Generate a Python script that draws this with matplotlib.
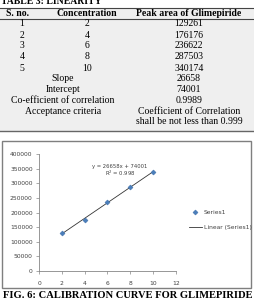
import matplotlib.pyplot as plt
from matplotlib.patches import Rectangle
from matplotlib.lines import Line2D
import numpy as np

# linearity table
sno = [1, 2, 3, 4, 5]
conc = [2, 4, 6, 8, 10]
peak_area = [129261, 176176, 236622, 287503, 340174]
summary_labels = ['Slope', 'Intercept', 'Co-efficient of correlation', 'Acceptance criteria']
summary_values = ['26658', '74001', '0.9989', 'Coefficient of Correlation\nshall be not less than 0.999']
headers = ['S. no.', 'Concentration', 'Peak area of Glimepiride']

W, H = 255, 303
fig = plt.figure(figsize=(W / 100, H / 100), dpi=100)


def fx(px):
    return px / W


def fy(py):
    return 1 - py / H


serif = 'Liberation Serif'
fs = 7.0

# table
fig.patches.append(Rectangle((0, fy(131)), 1, fy(8) - fy(131), transform=fig.transFigure,
                             facecolor='#efefef', edgecolor='none', zorder=-2))
fig.text(fx(1), fy(1), 'TABLE 3: LINEARITY', family=serif, weight='bold', fontsize=fs,
         ha='left', va='center')
fig.add_artist(Line2D([0, 1], [fy(8), fy(8)], color='#444444', lw=0.8))
fig.add_artist(Line2D([0, 1], [fy(18.5), fy(18.5)], color='#444444', lw=0.8))
fig.add_artist(Line2D([0, 1], [fy(131), fy(131)], color='#666666', lw=1.0))

col_x = [18, 87, 189]
for x, h in zip(col_x, headers):
    fig.text(fx(x), fy(13), h, family=serif, weight='bold', fontsize=fs, ha='center', va='center')

row_y = [24, 35, 46, 57, 68]
for y, a, b, c in zip(row_y, sno, conc, peak_area):
    fig.text(fx(22), fy(y), str(a), family=serif, fontsize=fs, ha='center', va='center')
    fig.text(fx(87), fy(y), str(b), family=serif, fontsize=fs, ha='center', va='center')
    fig.text(fx(189), fy(y), str(c), family=serif, fontsize=fs, ha='center', va='center')

sum_y = [79, 90, 101, 112]
for y, lab, val in zip(sum_y, summary_labels, summary_values):
    fig.text(fx(63), fy(y), lab, family=serif, fontsize=fs, ha='center', va='center')
    if '\n' in val:
        fig.text(fx(189), fy(y - 5), val, family=serif, fontsize=fs, ha='center', va='top',
                 linespacing=1.1)
    else:
        fig.text(fx(189), fy(y), val, family=serif, fontsize=fs, ha='center', va='center')

# chart box
fig.patches.append(Rectangle((fx(2), fy(288)), fx(251) - fx(2), fy(141) - fy(288),
                             transform=fig.transFigure, facecolor='white', edgecolor='#7f7f7f',
                             lw=1.0, zorder=-1))

ax = fig.add_axes([fx(39), fy(271), fx(176) - fx(39), fy(154.3) - fy(271)])
ax.set_facecolor('none')
slope, intercept = np.polyfit(conc, peak_area, 1)
r2 = np.floor(np.corrcoef(conc, peak_area)[0, 1] ** 2 * 1000) / 1000
xs = np.array([conc[0], conc[-1]])
ax.plot(xs, slope * xs + intercept, color='#333333', lw=0.6, label='Linear (Series1)', zorder=2)
ax.plot(conc, peak_area, 'D', color='#4a7ebb', ms=2.6, mec='#3a6aa5', mew=0.3, label='Series1', zorder=3)

ax.set_xlim(0, 12)
ax.set_ylim(0, 400000)
ax.set_xticks(np.arange(0, 13, 2))
ax.set_yticks(np.arange(0, 400001, 50000))
for s in ['top', 'right']:
    ax.spines[s].set_visible(False)
for s in ['left', 'bottom']:
    ax.spines[s].set_color('#868686')
    ax.spines[s].set_linewidth(0.6)
ax.tick_params(labelsize=4.3, colors='#868686', labelcolor='#404040', length=2, width=0.5, pad=2.5)
ax.tick_params(axis='x', pad=5.2)

ax.text(7.1, 357000, 'y = %.0fx + %.0f' % (slope, intercept), fontsize=3.8, color='#404040',
        ha='center', va='center')
ax.text(7.1, 333000, 'R$^2$ = %.3f' % r2, fontsize=3.8, color='#404040', ha='center', va='center')

handles, labels = ax.get_legend_handles_labels()
fig.legend(handles[::-1], labels[::-1], loc='center left', bbox_to_anchor=(fx(187), fy(220)),
           frameon=False, fontsize=4.3, handlelength=2.2, handletextpad=0.35, labelspacing=1.6,
           labelcolor='#404040', borderpad=0.3, borderaxespad=0)

fig.text(0.5, fy(296), 'FIG. 6: CALIBRATION CURVE FOR GLIMEPIRIDE', family=serif, weight='bold',
         fontsize=7.6, ha='center', va='center')

fig.savefig('out.png', dpi=100)
